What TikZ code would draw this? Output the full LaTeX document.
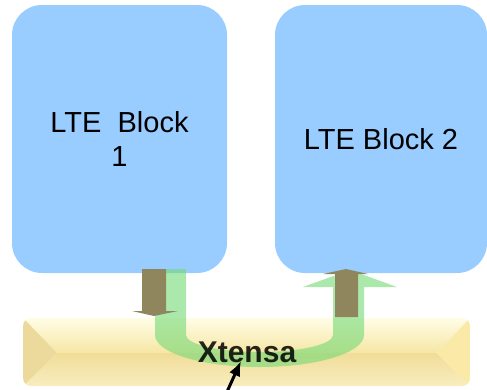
\documentclass[tikz,border=0pt]{standalone}
\usepackage{fontspec}
\setmainfont{Liberation Sans}
\usetikzlibrary{arrows.meta}
\definecolor{lteblue}{RGB}{153,204,255}
\definecolor{busgreen}{RGB}{120,218,120}
\definecolor{portbrown}{RGB}{143,134,94}
\definecolor{barlight}{RGB}{255,253,230}
\definecolor{barmid}{RGB}{246,230,164}
\definecolor{bardark}{RGB}{240,221,152}
\definecolor{barside}{RGB}{236,218,156}
\definecolor{barrside}{RGB}{250,233,167}

\begin{document}
\begin{tikzpicture}[x=1pt,y=-1pt,>=Latex,
    lteblock/.style={fill=lteblue,rounded corners=30pt,inner sep=0pt,align=center,
      font=\fontsize{29}{34}\selectfont},
    port/.style={fill=portbrown},
    bus/.style={fill=busgreen,fill opacity=0.62}]
  \useasboundingbox (0,0) rectangle (487,389);
  % the two LTE blocks
  \node[lteblock,minimum width=215pt,minimum height=268pt] (blk1) at (119.5,139) {LTE~~Block\\1};
  \node[lteblock,minimum width=212pt,minimum height=268pt] (blk2) at (381,139) {LTE Block 2};
  % Xtensa bar with bevelled edges
  \begin{scope}
    \clip[rounded corners=8pt] (23,318) rectangle (470,386);
    \shade[top color=barlight,bottom color=barmid] (23,318) -- (470,318) -- (437,353) -- (57,353) -- cycle;
    \shade[top color=bardark,bottom color=barmid!70!white] (23,386) -- (470,386) -- (437,353) -- (57,353) -- cycle;
    \fill[barside] (23,318) -- (57,353) -- (23,386) -- cycle;
    \fill[barrside] (470,318) -- (437,353) -- (470,386) -- cycle;
  \end{scope}
  % green U-shaped path from block 1 to block 2
  \path[bus] (155,269) -- (155,335) arc[start angle=180,end angle=0,x radius=104.5,y radius=32]
    -- (364,287) -- (397,287) -- (350,270) -- (303,287) -- (333,287) -- (333,335)
    arc[start angle=0,end angle=180,x radius=73.5,y radius=17] -- (186,269) -- cycle;
  \node[font=\fontsize{30}{36}\selectfont\bfseries,anchor=base,text opacity=0.85] (xtensa) at (247,362) {Xtensa};
  % ports
  \fill[port] (142,269) -- (166,269) -- (166,311) -- (178,311) -- (154,316) -- (132,311) -- (142,311) -- cycle;
  \fill[port] (335,317) -- (358,317) -- (358,274) -- (368,274) -- (346,269) -- (323,274) -- (335,274) -- cycle;
  % pointer
  \coordinate (ptrtail) at (226,394);
  \coordinate (ptrtip) at (241,361);
  \draw[-{Latex[length=15pt,width=12pt]},line width=3pt] (ptrtail) -- (ptrtip);
\end{tikzpicture}
\end{document}
